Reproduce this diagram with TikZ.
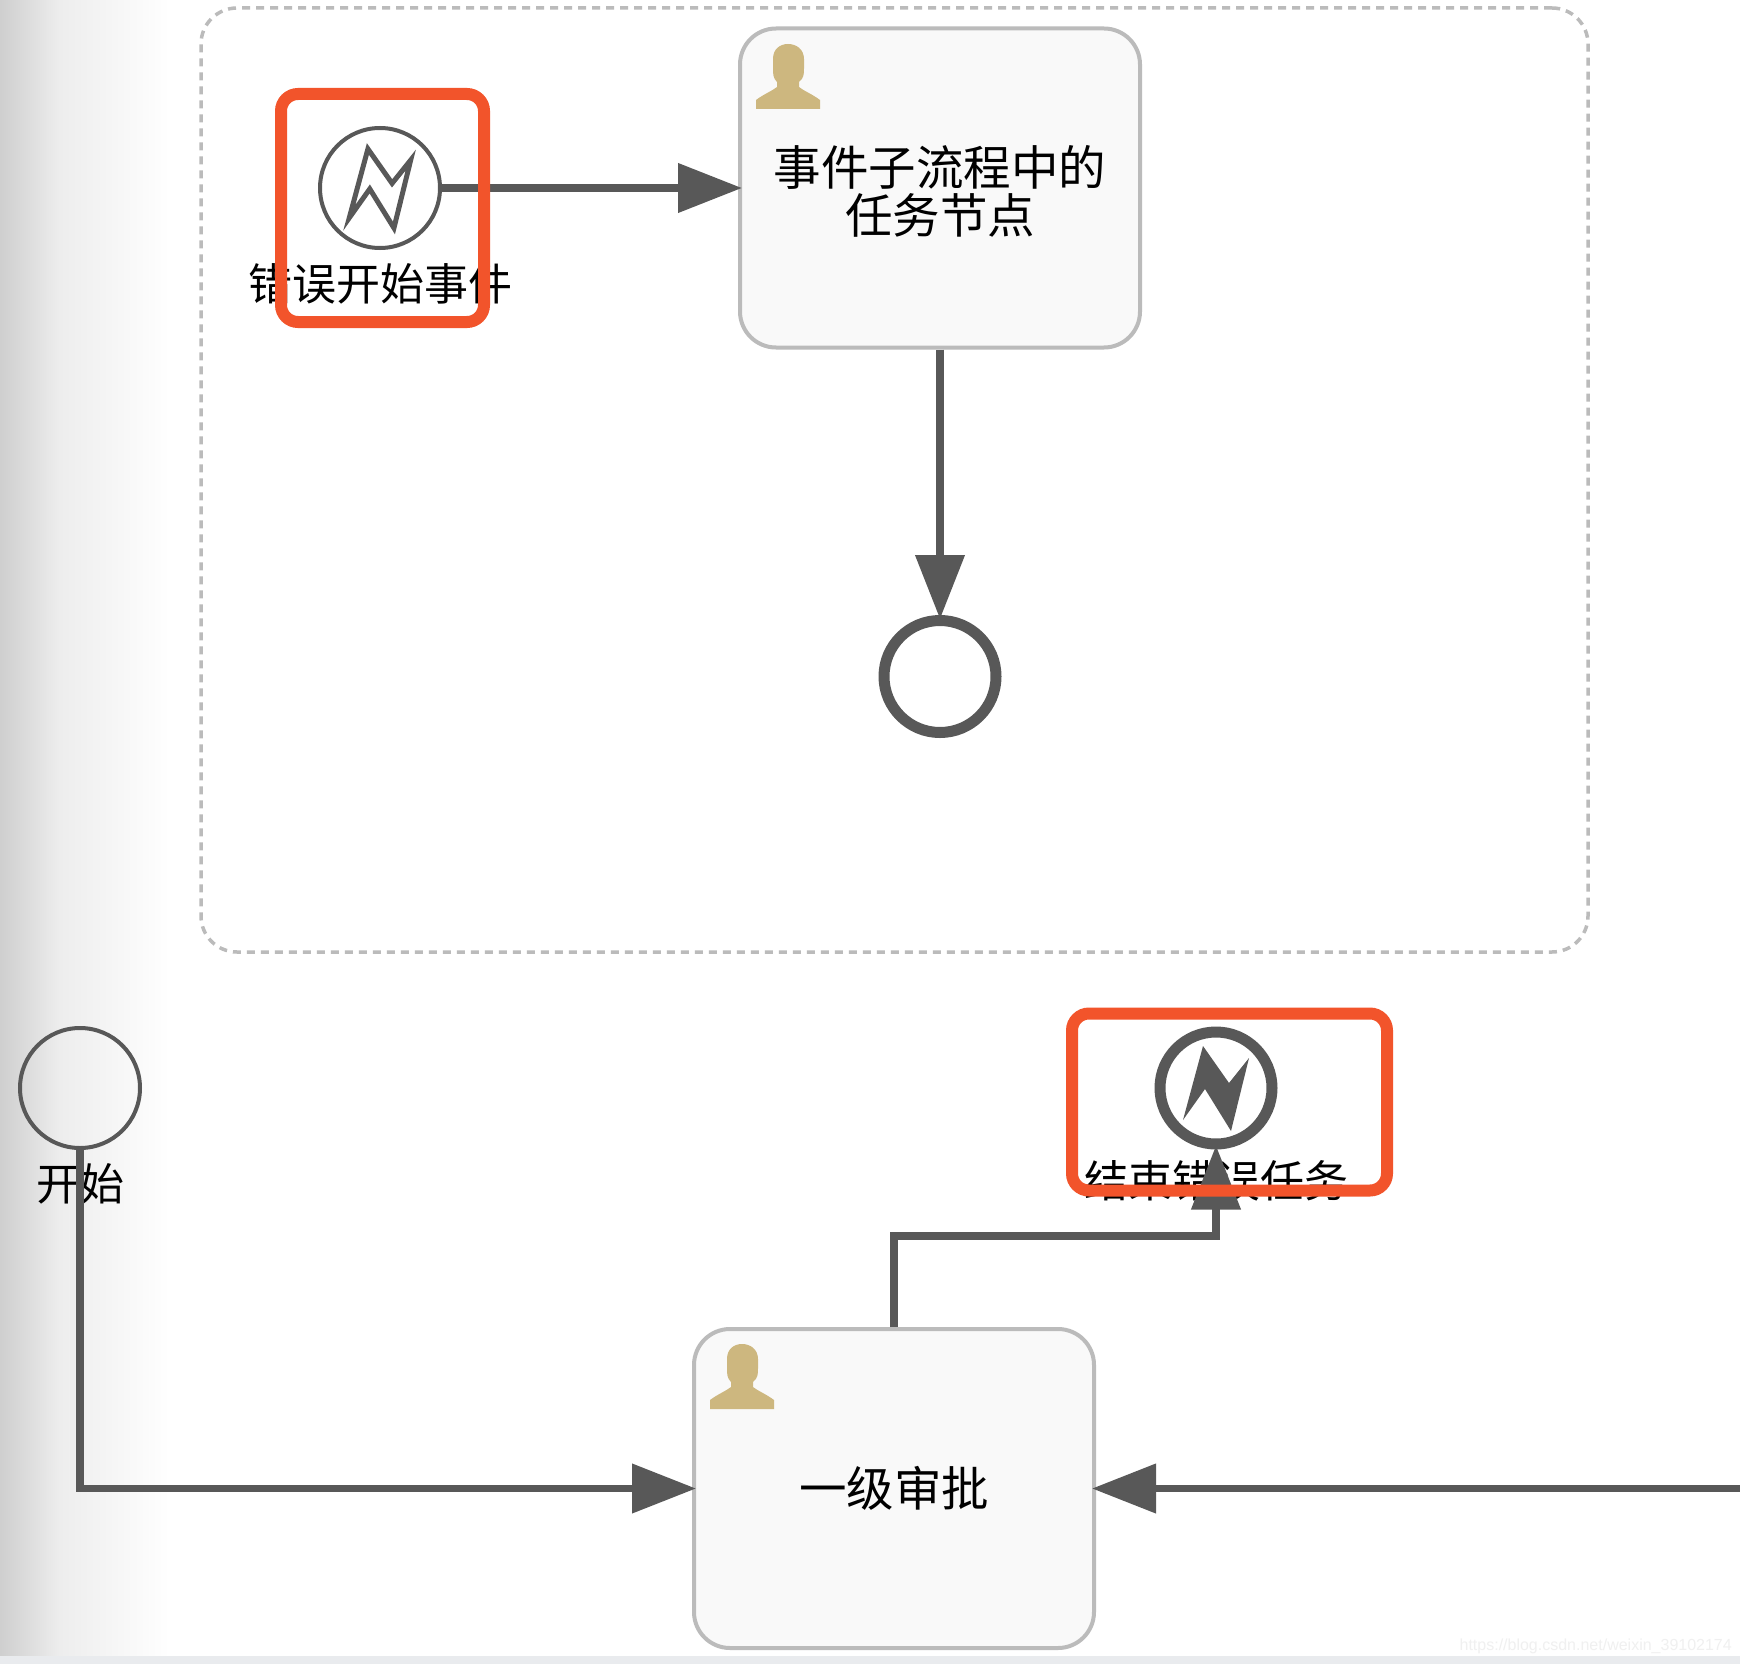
\documentclass[tikz,border=0pt]{standalone}
\usepackage{fontspec}
\setmainfont{Noto Sans CJK SC}
\newfontfamily\wmfont{Liberation Sans}
\usetikzlibrary{arrows.meta}
\definecolor{conn}{HTML}{585858}
\definecolor{taskfill}{HTML}{F9F9F9}
\definecolor{taskline}{HTML}{BBBBBB}
\definecolor{redmark}{HTML}{F2542B}
\definecolor{usercol}{HTML}{CDB77F}
\definecolor{strip}{HTML}{E9EBEE}
\tikzset{
  x=1pt,y=-1pt,
  taskbox/.style={draw=taskline,fill=taskfill,line width=4pt,rounded corners=36pt,minimum width=400pt,minimum height=319pt,inner sep=0pt,align=center,font=\fontsize{47.5}{48}\selectfont},
  subproc/.style={draw=taskline,line width=3.5pt,dash pattern=on 8pt off 6pt,rounded corners=36pt,minimum width=1387pt,minimum height=944pt,inner sep=0pt},
  thinev/.style={circle,draw=conn,line width=4pt,minimum size=120pt,inner sep=0pt},
  thickev/.style={circle,draw=conn,fill=white,line width=11pt,minimum size=112pt,inner sep=0pt},
  evlabel/.style={inner sep=0pt,font=\fontsize{44}{46}\selectfont},
  flow/.style={draw=conn,line width=7.5pt,shorten >=-4pt,-{Triangle[length=64pt,width=48pt]}},
  redbox/.style={draw=redmark,line width=12pt,rounded corners=17pt,inner sep=0pt},
  usericon/.pic={\fill[usercol] (0,65) -- (0,56) .. controls (8,50) and (16,47) .. (21,43) -- (21,38) .. controls (17,34) and (17,30) .. (17,24) -- (17,15) .. controls (17,5) and (24,0) .. (32,0) .. controls (40,0) and (48,5) .. (48,15) -- (48,24) .. controls (48,30) and (48,34) .. (43,38) -- (43,43) .. controls (48,47) and (56,50) .. (64,56) -- (64,65) -- cycle;},
  boltshape/.pic={\path[pic actions] (-13,-42) -- (13,-5) -- (33,-30) -- (15,43) -- (-11,1) -- (-33,32) -- cycle;},
}
\begin{document}
\begin{tikzpicture}
\useasboundingbox (0,0) rectangle (1740,1664);
\fill[white] (0,0) rectangle (1740,1664);
\fill[left color=black!19,right color=black!7] (0,0) rectangle (60,1664);
\fill[left color=black!7,right color=white] (60,0) rectangle (170,1664);
\fill[strip] (0,1656) rectangle (1740,1664);
\node[inner sep=0pt,anchor=east,text=black!6,font=\wmfont\fontsize{16}{17}\selectfont] (wm) at (1732,1646) {https://blog.csdn.net/weixin\_39102174};

\node[subproc] (sub) at (894.5,480) {};
\node[taskbox,text depth=0pt] (task1) at (940,188) {\raisebox{-3pt}{事件子流程中的}\\\raisebox{-3pt}{任务节点}};
\pic at (756,44) {usericon};
\node[thinev,fill=white] (errstart) at (380,188) {};
\pic[draw=conn,line width=5pt,fill=white,scale=0.93] at (380,188) {boltshape};
\node[evlabel] (errstartl) at (380,284) {错误开始事件};
\node[thickev] (endplain) at (940,676.5) {};

\node[thinev] (start) at (80,1088) {};
\node[evlabel] (startl) at (80,1184) {开始};
\node[taskbox] (task2) at (894,1488.5) {\raisebox{-3pt}{一级审批}};
\pic at (710,1344) {usericon};
\node[evlabel] (enderrl) at (1216,1181) {结束错误任务};
\node[thickev] (enderr) at (1216,1088) {};
\pic[fill=conn] at (1216,1088) {boltshape};

\coordinate (rightend) at (1740,1488.5);
\coordinate (bendlevel) at (0,1236);
\draw[flow] (errstart) -- (task1);
\draw[flow] (task1) -- (endplain);
\draw[flow] (start.south) |- (task2.west);
\draw[flow] (task2.north) -- (task2.north |- bendlevel) -| (enderr.south);
\draw[flow] (rightend) -- (task2.east);

\node[redbox,minimum width=203pt,minimum height=228pt] (mark1) at (382.5,208) {};
\node[redbox,minimum width=315pt,minimum height=177pt] (mark2) at (1229.5,1102) {};
\end{tikzpicture}
\end{document}
